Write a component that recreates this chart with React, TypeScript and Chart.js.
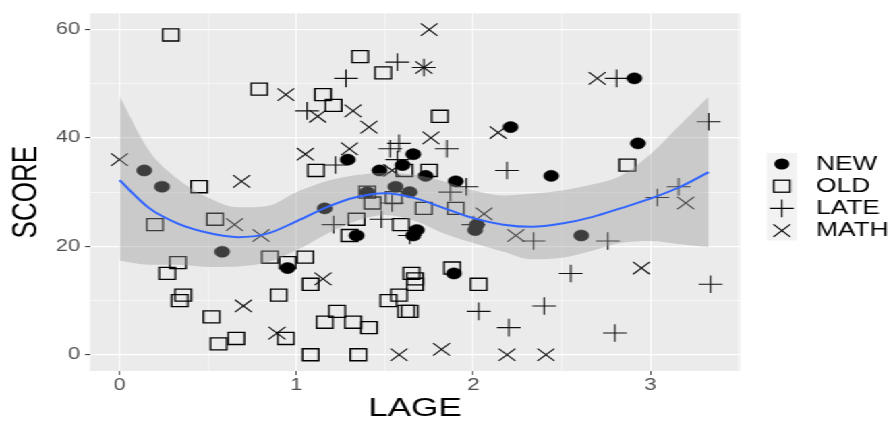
import React, { useEffect, useRef } from 'react';
import { Chart, registerables } from 'chart.js';

Chart.register(...registerables);

// ---- data ----
const newX = [0.14, 0.24, 0.58, 0.95, 1.16, 1.29, 1.34, 1.40, 1.47, 1.56, 1.60, 1.64, 1.66, 1.66, 1.68, 1.73, 1.89, 1.90, 2.01, 2.02, 2.21, 2.44, 2.61, 2.91, 2.93];
const newY = [34, 31, 19, 16, 27, 36, 22, 30, 34, 31, 35, 30, 37, 22, 23, 33, 15, 32, 23, 24, 42, 33, 22, 51, 39];

const oldX = [0.29, 0.79, 0.45, 0.20, 0.54, 0.33, 0.27, 0.85, 0.95, 1.05, 0.36, 0.34, 0.90, 0.52, 0.66, 0.56, 0.94, 1.08, 1.35, 1.16, 1.23, 1.32, 1.41, 1.08, 1.65, 1.67, 1.67, 1.58, 1.52, 1.62, 1.64, 1.88, 2.03, 1.11, 1.36, 1.49, 1.15, 1.21, 1.81, 1.61, 1.75, 2.87, 1.34, 1.30, 1.40, 1.43, 1.55, 1.72, 1.90, 1.59];
const oldY = [59, 49, 31, 24, 25, 17, 15, 18, 17, 18, 11, 10, 11, 7, 3, 2, 3, 0, 0, 6, 8, 6, 5, 13, 15, 14, 13, 11, 10, 8, 8, 16, 13, 34, 55, 52, 48, 46, 44, 34, 34, 35, 25, 22, 30, 28, 29, 27, 27, 24];

const lateX = [1.06, 1.28, 1.57, 1.72, 2.81, 3.33, 1.22, 1.53, 1.58, 1.57, 1.85, 2.19, 1.96, 1.87, 3.16, 3.04, 1.21, 1.48, 1.54, 1.64, 2.00, 2.34, 2.76, 2.55, 3.34, 2.40, 2.80, 2.20, 2.03];
const lateY = [45, 51, 54, 53, 51, 43, 35, 38, 39, 36, 38, 34, 31, 30, 31, 29, 24, 25, 28, 22, 24, 21, 21, 15, 13, 9, 4, 5, 8];

const mathX = [0.94, 0.00, 0.69, 1.05, 0.65, 0.80, 0.70, 0.89, 1.15, 1.58, 1.82, 2.19, 2.41, 1.75, 1.72, 1.12, 1.32, 1.41, 1.76, 2.14, 1.30, 1.54, 2.06, 2.70, 3.20, 2.24, 2.95];
const mathY = [48, 36, 32, 37, 24, 22, 9, 4, 14, 0, 1, 0, 0, 60, 53, 44, 45, 42, 40, 41, 38, 34, 26, 51, 28, 22, 16];

const smoothX = [0, 0.17, 0.33, 0.5, 0.67, 0.83, 1.0, 1.17, 1.33, 1.5, 1.67, 1.83, 2.0, 2.17, 2.33, 2.5, 2.67, 2.83, 3.0, 3.17, 3.33];
const smoothFit = [32.2, 27.0, 24.2, 22.5, 21.7, 22.3, 24.6, 27.2, 29.0, 29.8, 28.9, 27.1, 25.2, 24.0, 23.6, 24.2, 25.4, 27.0, 28.8, 31.0, 33.7];
const smoothUpper = [47.7, 37.5, 32.4, 29.0, 27.2, 27.4, 30.0, 32.0, 33.1, 33.6, 33.2, 32.0, 30.3, 29.4, 29.7, 30.3, 31.4, 33.0, 37.0, 42.5, 47.6];
const smoothLower = [17.4, 16.6, 16.6, 16.2, 16.3, 17.0, 19.3, 22.3, 24.6, 25.8, 24.7, 22.4, 20.6, 19.0, 17.6, 17.9, 19.2, 20.6, 21.0, 20.4, 19.9];

const seriesNames = ['NEW', 'OLD', 'LATE', 'MATH'];
const xTitle = 'LAGE';
const yTitle = 'SCORE';

// ---- layout ----
const W = 662;
const H = 422;
const K = 893 / W;
const FONT = '"Liberation Sans", Arial, sans-serif';

const pts = (xs: number[], ys: number[]) => xs.map((x, i) => ({ x, y: ys[i] }));

export default function App() {
  const ref = useRef<HTMLCanvasElement | null>(null);

  useEffect(() => {
    const canvas = ref.current!;

    const panelBg = {
      id: 'panelBg',
      beforeDraw(chart: any) {
        const { ctx, chartArea: a } = chart;
        ctx.save();
        ctx.fillStyle = '#EBEBEB';
        ctx.fillRect(a.left, a.top, a.right - a.left, a.bottom - a.top);
        ctx.restore();
      },
    };

    const ggLegend = {
      id: 'ggLegend',
      afterDraw(chart: any) {
        const ctx = chart.ctx as CanvasRenderingContext2D;
        const kx = 579.6;
        const top = 153;
        const rowH = 22.2;
        ctx.save();
        ctx.fillStyle = '#F2F2F2';
        ctx.fillRect(568.4, top, 22.4, 87.5);
        seriesNames.forEach((name, i) => {
          const cy = 164 + i * rowH;
          ctx.strokeStyle = '#000';
          ctx.fillStyle = '#000';
          ctx.beginPath();
          if (i === 0) {
            ctx.arc(kx, cy, 5.6, 0, Math.PI * 2);
            ctx.fill();
          } else if (i === 1) {
            ctx.lineWidth = 1.3;
            ctx.strokeRect(kx - 6, cy - 6, 12, 12);
          } else if (i === 2) {
            ctx.lineWidth = 1.1;
            ctx.moveTo(kx - 8.8, cy);
            ctx.lineTo(kx + 8.8, cy);
            ctx.moveTo(kx, cy - 8.8);
            ctx.lineTo(kx, cy + 8.8);
            ctx.stroke();
          } else {
            const d = 8.8 * Math.SQRT1_2;
            ctx.lineWidth = 1.1;
            ctx.moveTo(kx - d, cy - d);
            ctx.lineTo(kx + d, cy + d);
            ctx.moveTo(kx - d, cy + d);
            ctx.lineTo(kx + d, cy - d);
            ctx.stroke();
          }
          ctx.fillStyle = '#000';
          ctx.font = `19.5px ${FONT}`;
          ctx.textBaseline = 'middle';
          ctx.textAlign = 'left';
          ctx.fillText(name, 605, cy + 0.5);
        });
        ctx.restore();
      },
    };

    const isInt = (v: any) => typeof v === 'number' && Math.abs(v - Math.round(v)) < 1e-9;

    const chart = new Chart(canvas, {
      type: 'line',
      data: {
        datasets: [
          {
            label: seriesNames[0],
            data: pts(newX, newY),
            showLine: false,
            pointStyle: 'circle',
            pointRadius: 5.6,
            pointBackgroundColor: '#000',
            pointBorderColor: '#000',
            pointBorderWidth: 0.5,
            order: 3,
          },
          {
            label: seriesNames[1],
            data: pts(oldX, oldY),
            showLine: false,
            pointStyle: 'rect',
            pointRadius: 8.5,
            pointBackgroundColor: 'rgba(0,0,0,0)',
            pointBorderColor: '#000',
            pointBorderWidth: 1.3,
            order: 3,
          },
          {
            label: seriesNames[2],
            data: pts(lateX, lateY),
            showLine: false,
            pointStyle: 'cross',
            pointRadius: 8.8,
            pointBorderColor: '#111',
            pointBorderWidth: 1.1,
            order: 3,
          },
          {
            label: seriesNames[3],
            data: pts(mathX, mathY),
            showLine: false,
            pointStyle: 'crossRot',
            pointRadius: 8.8,
            pointBorderColor: '#111',
            pointBorderWidth: 1.1,
            order: 3,
          },
          {
            label: 'lower',
            data: pts(smoothX, smoothLower),
            showLine: true,
            pointRadius: 0,
            borderColor: 'rgba(0,0,0,0)',
            borderWidth: 1,
            fill: false,
            cubicInterpolationMode: 'monotone',
            order: 2,
          },
          {
            label: 'upper',
            data: pts(smoothX, smoothUpper),
            showLine: true,
            pointRadius: 0,
            borderColor: 'rgba(0,0,0,0)',
            borderWidth: 1,
            fill: '-1',
            backgroundColor: 'rgba(153,153,153,0.4)',
            cubicInterpolationMode: 'monotone',
            order: 2,
          },
          {
            label: 'fit',
            data: pts(smoothX, smoothFit),
            showLine: true,
            pointRadius: 0,
            borderColor: '#3366FF',
            borderWidth: 2,
            fill: false,
            cubicInterpolationMode: 'monotone',
            order: 1,
          },
        ],
      } as any,
      options: {
        responsive: false,
        animation: false,
        devicePixelRatio: 1,
        events: [],
        layout: { padding: { left: 0, right: W - 548.6, top: 11, bottom: 0 } },
        plugins: {
          legend: { display: false },
          tooltip: { enabled: false },
          filler: { drawTime: 'beforeDatasetDraw', propagate: false },
        } as any,
        scales: {
          x: {
            type: 'linear',
            min: -0.167,
            max: 3.507,
            afterFit: (s: any) => {
              s.height = 51;
            },
            border: { display: false },
            ticks: {
              stepSize: 0.5,
              includeBounds: false,
              autoSkip: false,
              maxRotation: 0,
              color: '#4D4D4D',
              padding: 1,
              font: { family: FONT, size: 16 },
              callback: (v: any) => (isInt(v) ? String(Math.round(v)) : ''),
            },
            grid: {
              color: '#FFFFFF',
              lineWidth: (c: any) => (c.tick && isInt(c.tick.value) ? 0.9 : 0.45),
              drawTicks: true,
              tickLength: 4,
              tickWidth: 0.8,
              tickColor: (c: any) => (c.tick && isInt(c.tick.value) ? '#333333' : 'rgba(0,0,0,0)'),
            },
            title: {
              display: true,
              text: xTitle,
              color: '#000',
              font: { family: FONT, size: 26, lineHeight: 1 },
              padding: { top: 0, bottom: 0 },
            },
          },
          y: {
            type: 'linear',
            min: -3,
            max: 63,
            afterFit: (s: any) => {
              s.width = 66.7;
            },
            border: { display: false },
            ticks: {
              stepSize: 10,
              includeBounds: false,
              color: '#4D4D4D',
              padding: 3.7,
              font: { family: FONT, size: 16 },
              callback: (v: any) => (Math.round(v) % 20 === 0 ? String(Math.round(v)) : ''),
            },
            grid: {
              color: '#FFFFFF',
              lineWidth: (c: any) => (c.tick && Math.round(c.tick.value) % 20 === 0 ? 1.2 : 0.6),
              drawTicks: true,
              tickLength: 3.7,
              tickWidth: 1,
              tickColor: (c: any) => (c.tick && Math.round(c.tick.value) % 20 === 0 ? '#333333' : 'rgba(0,0,0,0)'),
            },
            title: {
              display: true,
              text: yTitle,
              color: '#000',
              font: { family: FONT, size: 26, lineHeight: 1 },
              padding: { top: 7, bottom: 0 },
            },
          },
        },
      } as any,
      plugins: [panelBg, ggLegend],
    });

    return () => chart.destroy();
  }, []);

  return (
    <div
      style={{
        position: 'absolute',
        left: 0,
        top: 0,
        width: W,
        height: H,
        transform: `scaleX(${K})`,
        transformOrigin: '0 0',
        background: '#FFFFFF',
      }}
    >
      <canvas ref={ref} width={W} height={H} style={{ display: 'block', width: W, height: H }} />
    </div>
  );
}
